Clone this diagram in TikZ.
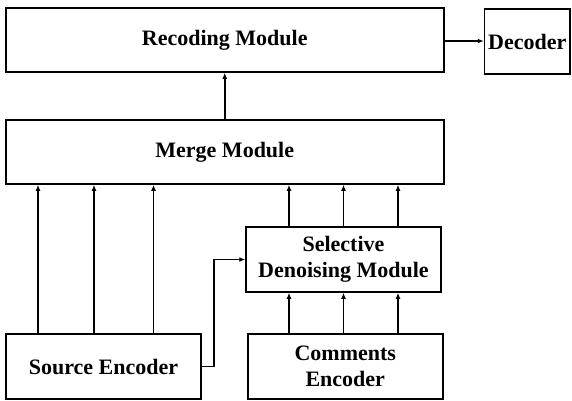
\documentclass[tikz,border=0pt]{standalone}
\usepackage{fontspec}
\setmainfont{Liberation Serif}
\usetikzlibrary{arrows.meta}

\tikzstyle{block}=[draw,black,line width=1.5pt,fill=white,align=center,inner sep=0pt,font=\bfseries\fontsize{22}{26}\selectfont]
\tikzstyle{wide}=[block,minimum width=438pt,minimum height=64pt]
\tikzstyle{small}=[block,minimum width=195pt,minimum height=65pt]
\tikzstyle{link}=[line width=1.5pt,-{Latex[length=6pt,width=5pt]}]

\begin{document}
\begin{tikzpicture}[x=1pt,y=-1pt]
    \useasboundingbox (0,0) rectangle (572,400);
    \node (rec)[wide] at (224.75,40) {Recoding Module};
    \node (dec)[block,minimum width=85.5pt,minimum height=65pt] at (527.25,41.5) {Decoder};
    \node (mrg)[wide] at (224.75,152) {Merge Module};
    \node (sel)[small] at (343.5,259.5) {Selective\\Denoising Module};
    \node (src)[small] at (103.5,366.5) {Source Encoder};
    \node (com)[small] at (345.25,366.5) {Comments\\Encoder};
    \draw[link] (rec.east |- 0,41) -- (dec.west |- 0,41);
    \draw[link] (mrg.north) -- (rec.south);
    \foreach \dx in {-65.5,-9.5,50}
        \draw[link] ([xshift=\dx pt]src.north) -- ([xshift=\dx pt]src.north |- mrg.south);
    \foreach \dx in {-54.5,0,54.5} {
        \draw[link] ([xshift=\dx pt]sel.north) -- ([xshift=\dx pt]sel.north |- mrg.south);
        \draw[link] ([xshift=\dx pt]sel.south |- com.north) -- ([xshift=\dx pt]sel.south);
    }
    \draw[link] (src.east) -- ++(12,0) |- (sel.west);
\end{tikzpicture}
\end{document}
